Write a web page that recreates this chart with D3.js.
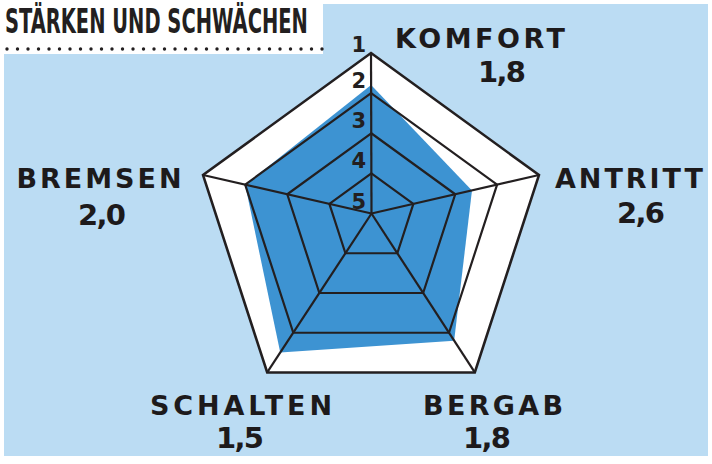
<!DOCTYPE html>
<html lang="de">
<head>
<meta charset="UTF-8">
<title>Stärken und Schwächen</title>
<script src="https://cdnjs.cloudflare.com/ajax/libs/d3/7.9.0/d3.min.js"></script>
<style>
  body { margin: 0; background: #fff; }
  svg { display: block; }
  .title { font-family: "Liberation Sans Narrow", "DejaVu Sans Condensed", sans-serif; font-weight: bold; font-size: 34px; fill: #231f20; }
  .name { font-family: "DejaVu Sans", sans-serif; font-weight: bold; font-size: 27px; fill: #1d1a1b; }
  .value { font-family: "DejaVu Sans", sans-serif; font-weight: bold; font-size: 29px; fill: #1d1a1b; }
  .level { font-family: "DejaVu Sans", sans-serif; font-weight: bold; font-size: 21px; fill: #231f20; }
</style>
</head>
<body>
<svg id="chart" width="712" height="464"></svg>
<script>
// data
const categories = ['KOMFORT', 'ANTRITT', 'BERGAB', 'SCHALTEN', 'BREMSEN'];
const scores = [1.8, 2.6, 1.8, 1.5, 2.0];
const levels = [1, 2, 3, 4, 5];

// layout (grade 1 = outer ring, grade 5 = hub)
const centre = {x: 371, y: 229.6}, radius = 176.6;
const hub = {x: 371.5, y: 213.5};
const labelPos = [[480, 48], [629, 188], [493, 415], [241, 415], [99, 188]];
const labelWidth = [170, 148, 140, 182, 165];
const valuePos = [[502, 82], [641, 223], [487, 448], [240, 448], [102, 225]];

const svg = d3.select('#chart');
const ink = '#231f20';

const angle = d3.scaleLinear().domain([0, categories.length]).range([-Math.PI / 2, 1.5 * Math.PI]);
const grade = d3.scaleLinear().domain([5, 1]).range([0, 1]);
const fmt = v => d3.format('.1f')(v).replace('.', ',');

function outer(i) {
    const a = angle(i);
    return [centre.x + radius * Math.cos(a), centre.y + radius * Math.sin(a)];
}
function pt(i, v) {
    const [ox, oy] = outer(i), k = grade(v);
    return [hub.x + k * (ox - hub.x), hub.y + k * (oy - hub.y)];
}
const ring = v => categories.map((c, i) => pt(i, v));
const line = d3.line().curve(d3.curveLinearClosed);

// background + title box
svg.append('rect').attr('x', 4).attr('y', 4).attr('width', 704).attr('height', 452).attr('fill', '#bbdcf3');
svg.append('rect').attr('x', 0).attr('y', 0).attr('width', 323).attr('height', 54).attr('fill', '#fff');
const title = svg.append('text').attr('class', 'title')
    .text('STÄRKEN UND SCHWÄCHEN');
// squeeze the title into 303px (condensed look)
const sx = 303 / title.node().getComputedTextLength();
title.attr('transform', `translate(5,33) scale(${sx},1)`);
svg.append('g').selectAll('circle').data(d3.range(31)).join('circle')
    .attr('cx', d => 7 + d * 10.5).attr('cy', 49).attr('r', 1.7).attr('fill', ink);

// outer white pentagon
svg.append('path').attr('d', line(ring(1))).attr('fill', '#fff');

// scores
svg.append('path').attr('d', line(scores.map((v, i) => pt(i, v)))).attr('fill', '#3d93d2');

// grid
svg.append('g').selectAll('path').data(levels.slice(0, 4)).join('path')
    .attr('d', d => line(ring(d)))
    .attr('fill', 'none').attr('stroke', ink)
    .attr('stroke-width', d => d === 1 ? 2.6 : 2.2).attr('stroke-linejoin', 'miter');
svg.append('g').selectAll('line').data(categories).join('line')
    .attr('x1', hub.x).attr('y1', hub.y)
    .attr('x2', (d, i) => outer(i)[0]).attr('y2', (d, i) => outer(i)[1])
    .attr('stroke', ink).attr('stroke-width', 2.2);

// grade labels along the top spoke
svg.append('g').selectAll('text').data(levels).join('text')
    .attr('class', 'level').attr('text-anchor', 'end')
    .attr('x', 366).attr('y', d => pt(0, d)[1] - (d === 1 ? 1 : 5))
    .text(d => d);

// category names and scores
svg.append('g').selectAll('text').data(categories).join('text')
    .attr('class', 'name').attr('text-anchor', 'middle')
    .attr('x', (d, i) => labelPos[i][0]).attr('y', (d, i) => labelPos[i][1])
    .attr('textLength', (d, i) => labelWidth[i]).attr('lengthAdjust', 'spacing')
    .text(d => d);
svg.append('g').selectAll('text').data(scores).join('text')
    .attr('class', 'value').attr('text-anchor', 'middle')
    .attr('x', (d, i) => valuePos[i][0]).attr('y', (d, i) => valuePos[i][1])
    .attr('textLength', 48).attr('lengthAdjust', 'spacing')
    .text(d => fmt(d));
</script>
</body>
</html>
